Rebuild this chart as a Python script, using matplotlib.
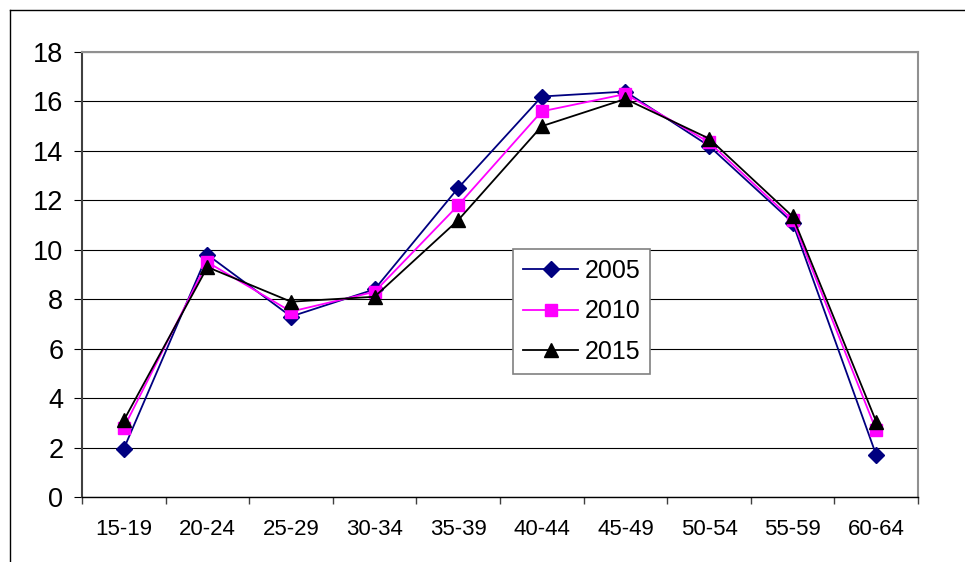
import matplotlib
matplotlib.use("Agg")
import matplotlib.pyplot as plt
from matplotlib.lines import Line2D
from matplotlib.ticker import FixedLocator, NullFormatter

plt.rcParams['font.family'] = ['Liberation Sans', 'DejaVu Sans']

age_groups = ["15-19", "20-24", "25-29", "30-34", "35-39",
              "40-44", "45-49", "50-54", "55-59", "60-64"]
values_2005 = [1.95, 9.8, 7.3, 8.4, 12.5, 16.2, 16.4, 14.2, 11.1, 1.7]
values_2010 = [2.8, 9.5, 7.5, 8.3, 11.8, 15.6, 16.3, 14.35, 11.2, 2.7]
values_2015 = [3.1, 9.3, 7.9, 8.1, 11.2, 15.0, 16.1, 14.5, 11.35, 3.05]
y_ticks = [0, 2, 4, 6, 8, 10, 12, 14, 16, 18]

W, H = 965, 562
fig = plt.figure(figsize=(W / 100, H / 100), dpi=100)
ax = fig.add_axes([82 / W, 1 - 497 / H, (918 - 82) / W, (497 - 52) / H])

x = list(range(len(age_groups)))
ax.plot(x, values_2005, color="#000080", lw=1.3, marker="D", ms=8.5,
        label="2005", zorder=3)
ax.plot(x, values_2010, color="#FF00FF", lw=1.3, marker="s", ms=8.5,
        label="2010", zorder=4)
ax.plot(x, values_2015, color="black", lw=1.3, marker="^", ms=10,
        label="2015", zorder=5)

ax.set_xlim(-0.5, len(age_groups) - 0.5)
ax.set_ylim(0, 18)

# horizontal gridlines
ax.set_yticks(y_ticks)
ax.yaxis.grid(True, color="black", lw=0.8, zorder=1)
ax.set_axisbelow(True)

# category labels centred, ticks at category boundaries
ax.set_xticks(x)
ax.set_xticklabels(age_groups, fontsize=16)
ax.xaxis.set_minor_locator(FixedLocator([i - 0.5 for i in range(len(age_groups) + 1)]))
ax.xaxis.set_minor_formatter(NullFormatter())
ax.tick_params(axis="x", which="major", length=0, pad=15.5)
ax.tick_params(axis="x", which="minor", length=5, width=1, color="#404040", direction="out")
ax.tick_params(axis="y", length=6, width=0.8, color="black", pad=7.5, labelsize=19.5)

for side in ("top", "right"):
    ax.spines[side].set_color("#909090")
    ax.spines[side].set_linewidth(1.5)
ax.spines["left"].set_color("#404040")
ax.spines["left"].set_linewidth(1.5)
ax.spines["bottom"].set_color("black")
ax.spines["bottom"].set_linewidth(1.0)

leg = ax.legend(loc="upper left", bbox_to_anchor=((513 - 82) / 836, (497 - 249) / 445),
                fontsize=18, frameon=True, fancybox=False, framealpha=1,
                edgecolor="#808080", handlelength=2.2, handletextpad=0.25,
                labelspacing=0.66, borderpad=0.4, borderaxespad=0)
leg.get_frame().set_linewidth(1.2)

# outer chart frame
fig.add_artist(Line2D([10 / W, 1], [1 - 10 / H, 1 - 10 / H], color="black", lw=1,
                      transform=fig.transFigure))
fig.add_artist(Line2D([10 / W, 10 / W], [0, 1 - 10 / H], color="black", lw=1,
                      transform=fig.transFigure))

fig.savefig("out.png", dpi=100)
